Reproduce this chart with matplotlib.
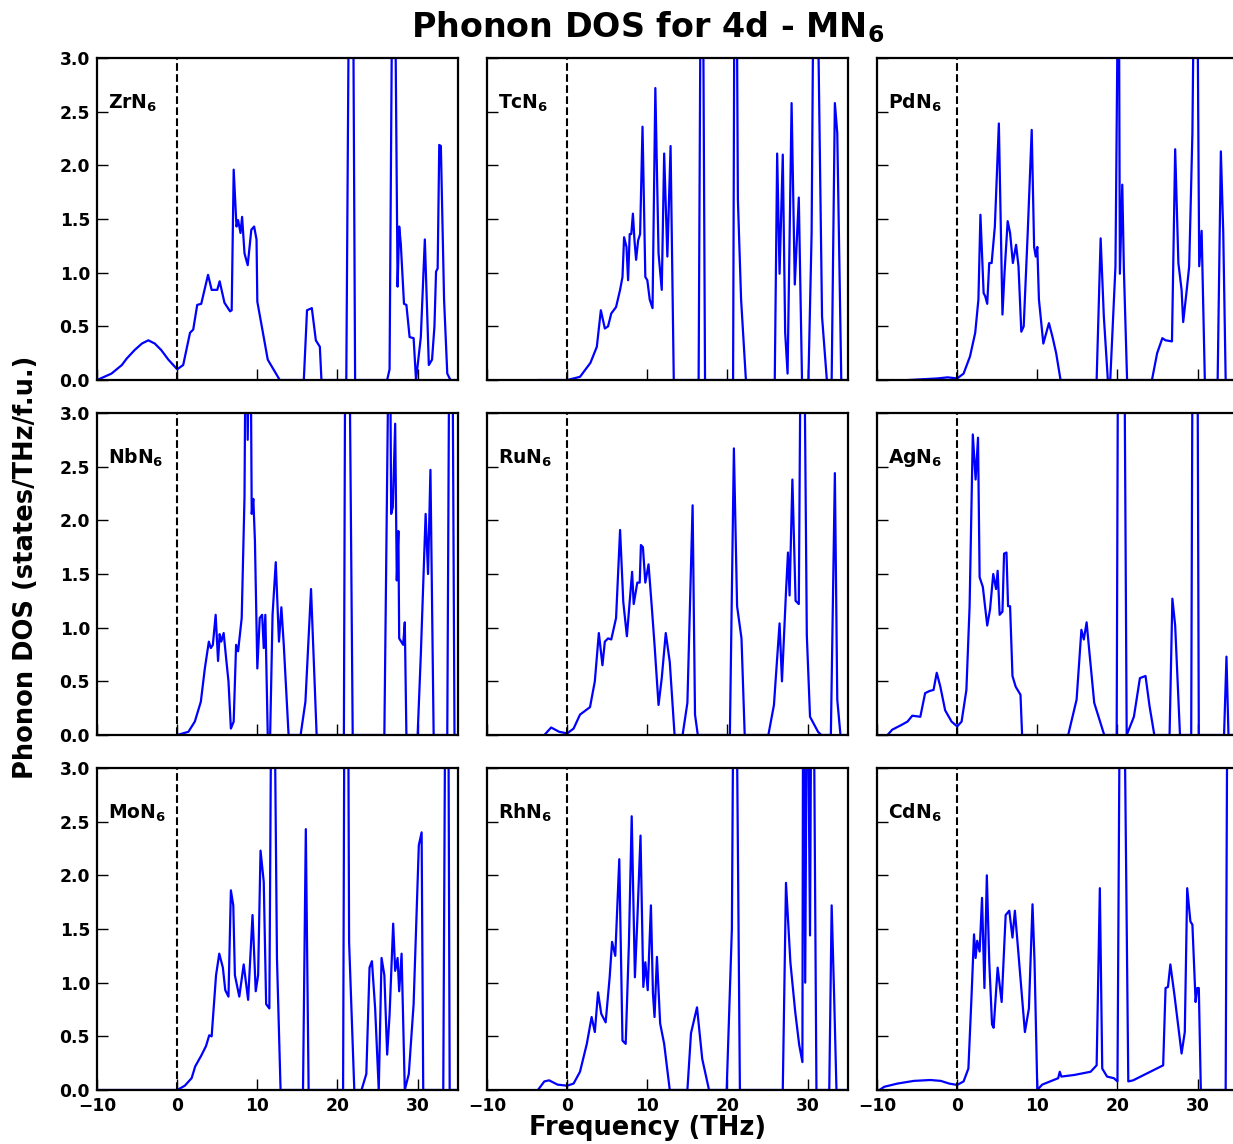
import matplotlib
matplotlib.use('Agg')
import matplotlib.pyplot as plt

# phonon DOS (values above 3.0 are cut by the axis)
zr_freq = [-10, -8.2, -6.9, -6.3, -5.3, -4.4, -3.6, -2.8, -2.0, -1.1, 0, 0.75, 1.6, 2.0, 2.5, 3.0,
           3.85, 4.3, 5.0, 5.3, 5.9, 6.6, 6.8, 7.05, 7.4, 7.6, 7.9, 8.1, 8.4, 8.8, 9.25, 9.6, 9.9,
           10.0, 10.7, 11.3, 12.8, 15.8, 16.2, 16.8, 17.3, 17.8, 18.0, 21.1, 21.5, 21.9, 22.2,
           26.2, 26.5, 26.9, 27.1, 27.5, 27.7, 27.9, 28.3, 28.6, 29.0, 29.5, 29.8, 30.4, 30.9,
           31.4, 31.8, 32.1, 32.3, 32.5, 32.7, 32.9, 33.3, 33.7, 34.1, 35]
zr_dos = [0, 0.06, 0.14, 0.2, 0.28, 0.34, 0.37, 0.34, 0.28, 0.19, 0.1, 0.14, 0.44, 0.47, 0.70, 0.71,
          0.98, 0.84, 0.84, 0.92, 0.72, 0.64, 0.65, 1.96, 1.43, 1.49, 1.37, 1.52, 1.18, 1.07, 1.40, 1.43, 1.31,
          0.73, 0.44, 0.19, 0, 0, 0.65, 0.67, 0.37, 0.31, 0, 0, 4.5, 4.5, 0,
          0, 0.1, 4.5, 4.5, 0.87, 1.43, 1.27, 0.71, 0.7, 0.4, 0.39, 0, 0.4, 1.31,
          0.14, 0.19, 0.5, 1.01, 1.04, 2.19, 2.18, 0.75, 0.06, 0, 0]

tc_freq = [-3.5, 0, 1.6, 2.9, 3.7, 4.2, 4.7, 5.1, 5.5, 6.1, 6.6, 6.9, 7.1, 7.4, 7.6, 7.8, 8.0, 8.2,
           8.4, 8.6, 8.85, 9.1, 9.4, 9.75, 10.0, 10.3, 10.65, 11.0, 11.4, 11.8, 12.1, 12.5, 12.9, 13.3,
           16.4, 16.7, 16.9, 17.2, 20.7, 20.9, 21.1, 21.3, 21.7, 22.3, 25.9, 26.2, 26.5, 26.9, 27.2,
           27.5, 28.0, 28.4, 28.9, 29.3, 30.1, 30.5, 30.8, 31.1, 31.8, 32.4, 33.0, 33.4, 33.7, 34.2, 35]
tc_dos = [0, 0, 0.03, 0.16, 0.31, 0.65, 0.48, 0.5, 0.62, 0.68, 0.84, 0.96, 1.33, 1.24, 0.93, 1.36, 1.36, 1.55,
          1.3, 1.12, 1.3, 1.36, 2.36, 0.96, 0.93, 0.75, 0.67, 2.72, 1.18, 0.84, 2.11, 1.15, 2.18, 0,
          0, 4.5, 4.5, 0, 0, 4.5, 4.5, 1.68, 0.75, 0, 0, 2.11, 0.99, 2.1, 0.44,
          0.06, 2.58, 0.89, 1.7, 0, 0, 1.37, 4.5, 4.5, 0.59, 0, 0, 2.58, 2.3, 0, 0]

pd_freq = [-6.1, -2.45, -1.2, 0, 0.8, 1.6, 2.25, 2.65, 2.9, 3.3, 3.5, 3.75, 4.0, 4.3, 4.7, 5.2, 5.65,
           5.9, 6.3, 6.6, 6.95, 7.35, 7.65, 8.0, 8.3, 8.8, 9.3, 9.6, 9.8, 10.0, 10.2, 10.75, 11.45, 11.9,
           12.35, 12.9, 17.4, 17.9, 18.3, 18.8, 19.1, 19.75, 20.15, 20.3, 20.6, 20.8, 21.2, 24.3, 24.95,
           25.6, 26.0, 26.8, 27.2, 27.6, 28.0, 28.2, 28.6, 28.95, 29.35, 29.65, 29.9, 30.2, 30.5, 30.9,
           32.5, 32.9, 33.2, 33.5, 35]
pd_dos = [0, 0.015, 0.025, 0.015, 0.06, 0.22, 0.44, 0.75, 1.54, 0.81, 0.78, 0.71, 1.09, 1.09, 1.43, 2.39, 0.61,
          0.99, 1.48, 1.37, 1.09, 1.26, 1.06, 0.45, 0.5, 1.37, 2.33, 1.24, 1.15, 1.24, 0.75, 0.34, 0.53, 0.4,
          0.25, 0, 0, 1.32, 0.59, 0, 0, 1.06, 4.5, 0.99, 1.82, 1.03, 0, 0, 0.25,
          0.39, 0.37, 0.36, 2.15, 1.09, 0.84, 0.54, 0.81, 1.06, 2.3, 4.5, 4.5, 1.06, 1.39, 0,
          0, 2.13, 1.37, 0, 0]

nb_freq = [0, 1.4, 2.2, 2.95, 3.45, 3.95, 4.2, 4.45, 4.8, 5.1, 5.3, 5.5, 5.8, 6.1, 6.4, 6.7, 7.05,
           7.35, 7.6, 8.05, 8.4, 8.6, 8.8, 9.1, 9.3, 9.5, 9.7, 10.0, 10.3, 10.6, 10.8, 11.0, 11.3, 11.6,
           11.9, 12.3, 12.7, 13.0, 13.3, 13.9, 15.4, 16.0, 16.7, 17.4, 20.8, 21.0, 21.4, 21.9, 25.85,
           26.5, 26.7, 26.9, 27.2, 27.4, 27.6, 27.7, 28.2, 28.4, 28.6, 30.0, 30.4, 31.0, 31.3, 31.6,
           32.0, 33.7, 34.0, 34.3, 34.6, 35]
nb_dos = [0, 0.03, 0.125, 0.31, 0.62, 0.87, 0.81, 0.84, 1.12, 0.69, 0.94, 0.87, 0.95, 0.72, 0.5, 0.06, 0.125,
          0.84, 0.78, 1.09, 2.22, 4.5, 2.75, 4.5, 2.06, 2.2, 1.81, 0.62, 1.09, 1.12, 0.81, 1.12, 0, 0,
          1.12, 1.61, 0.87, 1.19, 0.84, 0, 0, 0.31, 1.36, 0, 0, 4.5, 4.5, 0, 0,
          4.5, 2.06, 2.12, 2.9, 1.44, 1.9, 0.9, 0.84, 1.05, 0, 0, 0.75, 2.06, 1.5, 2.47,
          0, 0, 4.5, 4.5, 0, 0]

mo_freq = [-10, 0, 0.95, 1.8, 2.25, 3.0, 3.6, 4.0, 4.3, 4.55, 4.85, 5.25, 5.7, 6.0, 6.4, 6.7, 7.0,
           7.2, 7.75, 8.3, 8.85, 9.4, 9.8, 10.1, 10.4, 10.8, 11.1, 11.5, 11.8, 12.05, 12.45, 12.9,
           15.7, 16.05, 16.4, 20.7, 20.9, 21.3, 21.45, 22.1, 23.0, 23.6, 24.0, 24.3, 24.7, 25.15,
           25.5, 25.85, 26.2, 26.5, 26.95, 27.2, 27.5, 27.7, 28.0, 28.4, 28.9, 29.5, 30.15, 30.5,
           30.7, 33.2, 33.5, 33.8, 34.0, 35]
mo_dos = [0, 0, 0.04, 0.11, 0.22, 0.32, 0.41, 0.51, 0.5, 0.76, 1.07, 1.27, 1.14, 0.93, 0.87, 1.86, 1.72,
          1.07, 0.87, 1.17, 0.84, 1.63, 0.92, 1.07, 2.23, 1.94, 0.8, 0.76, 4.5, 4.5, 1.23, 0,
          0, 2.43, 0, 0, 4.5, 4.5, 1.38, 0, 0, 0.15, 1.14, 1.2, 0.76, 0,
          1.23, 1.07, 0.33, 0.7, 1.55, 1.11, 1.23, 0.92, 1.27, 0, 0.15, 0.8, 2.28, 2.4,
          0, 0, 4.5, 4.5, 0, 0]

ru_freq = [-2.85, -2.0, -1.0, 0, 0.8, 1.6, 2.85, 3.45, 3.95, 4.4, 4.7, 5.1, 5.5, 6.1, 6.6, 7.0, 7.45,
           8.1, 8.3, 8.75, 9.05, 9.2, 9.45, 9.75, 10.15, 10.55, 10.9, 11.4, 11.8, 12.3, 12.8, 13.4,
           14.4, 15.0, 15.65, 15.95, 16.3, 20.3, 20.8, 21.2, 21.75, 22.15, 25.1, 25.8, 26.0, 26.5,
           26.8, 27.3, 27.55, 27.75, 28.1, 28.5, 28.9, 29.2, 29.5, 29.9, 30.3, 31.3, 31.7, 32.9,
           33.4, 33.7, 34.1, 35]
ru_dos = [0, 0.07, 0.03, 0.015, 0.06, 0.19, 0.26, 0.5, 0.95, 0.65, 0.87, 0.9, 0.89, 1.09, 1.91, 1.24, 0.92,
          1.52, 1.22, 1.42, 1.42, 1.77, 1.75, 1.42, 1.59, 1.2, 0.84, 0.28, 0.53, 0.95, 0.68, 0,
          0, 0.3, 2.14, 0.19, 0, 0, 2.67, 1.2, 0.9, 0, 0, 0.28, 0.5, 1.04,
          0.5, 1.33, 1.7, 1.3, 2.38, 1.25, 1.22, 4.5, 4.5, 0.93, 0.17, 0.03, 0, 0,
          2.44, 0.33, 0, 0]

ag_freq = [-8.7, -8.1, -7.05, -6.2, -5.6, -4.6, -4.0, -3.45, -2.95, -2.55, -2.1, -1.5, -0.7, 0, 0.55,
           1.15, 1.55, 1.95, 2.3, 2.6, 2.8, 3.2, 3.75, 4.1, 4.5, 4.85, 5.05, 5.3, 5.65, 5.85, 6.15,
           6.35, 6.6, 6.9, 7.3, 7.9, 8.1, 13.85, 14.9, 15.5, 15.8, 16.15, 16.5, 17.1, 18.35, 19.9,
           20.1, 20.8, 21.15, 22.05, 22.8, 23.5, 24.0, 24.6, 26.5, 26.85, 27.2, 27.8, 29.2, 29.4,
           29.95, 30.15, 33.3, 33.6, 33.85, 35]
ag_dos = [0, 0.05, 0.09, 0.125, 0.18, 0.17, 0.39, 0.41, 0.42, 0.58, 0.45, 0.23, 0.125, 0.08, 0.125,
          0.42, 1.2, 2.8, 2.38, 2.77, 1.47, 1.38, 1.02, 1.17, 1.5, 1.36, 1.53, 1.12, 1.15, 1.69, 1.7,
          1.2, 1.2, 0.55, 0.45, 0.375, 0, 0, 0.33, 0.98, 0.89, 1.05, 0.77, 0.3, 0, 0,
          4.5, 4.5, 0, 0.17, 0.53, 0.55, 0.27, 0, 0, 1.27, 1.02, 0, 0, 4.5,
          4.5, 0, 0, 0.73, 0, 0]

rh_freq = [-3.65, -2.85, -2.25, -1.2, 0, 0.8, 1.6, 2.45, 3.05, 3.45, 3.85, 4.25, 4.8, 5.3, 5.6, 6.0,
           6.5, 6.9, 7.3, 7.7, 8.05, 8.45, 8.75, 9.15, 9.5, 9.75, 10.05, 10.45, 10.7, 10.9, 11.2, 11.6,
           12.1, 12.8, 15.0, 15.45, 16.2, 16.85, 17.7, 19.9, 20.55, 20.8, 21.05, 21.55, 26.9, 27.3,
           27.85, 28.45, 28.95, 29.35, 29.45, 29.7, 29.95, 30.3, 30.5, 30.7, 31.1, 32.7, 33.0, 33.3,
           33.6, 35]
rh_dos = [0, 0.08, 0.09, 0.05, 0.04, 0.06, 0.17, 0.43, 0.68, 0.54, 0.91, 0.71, 0.63, 1.05, 1.38, 1.25,
          2.15, 0.46, 0.43, 1.36, 2.55, 1.05, 1.58, 2.37, 0.96, 1.19, 0.93, 1.72, 0.9, 0.68, 1.24, 0.62,
          0.43, 0, 0, 0.53, 0.77, 0.29, 0, 0, 1.5, 4.5, 4.5, 0, 0, 1.93,
          1.19, 0.73, 0.42, 0.26, 4.5, 1.0, 4.5, 1.44, 4.5, 4.5, 0, 0, 1.72, 0.9,
          0, 0]

cd_freq = [-9.7, -9.1, -7.45, -5.4, -3.35, -2.05, -1.0, 0, 0.8, 1.4, 1.8, 2.1, 2.3, 2.5, 2.8, 3.1,
           3.4, 3.7, 4.0, 4.35, 4.55, 5.05, 5.55, 6.05, 6.5, 6.9, 7.2, 7.6, 8.45, 8.95, 9.4, 9.65,
           10.0, 10.6, 11.6, 12.6, 12.8, 13.0, 14.6, 16.65, 17.4, 17.8, 18.1, 18.7, 19.55, 20.0,
           20.35, 20.75, 21.35, 21.95, 25.7, 26.0, 26.3, 26.6, 27.1, 28.0, 28.4, 28.7, 29.1, 29.35,
           29.75, 29.95, 30.15, 30.4, 33.5, 33.75, 34.0, 35]
cd_dos = [0, 0.03, 0.06, 0.085, 0.093, 0.085, 0.06, 0.047, 0.08, 0.2, 0.89, 1.45, 1.23, 1.39, 1.29, 1.79,
          0.95, 2.0, 1.2, 0.61, 0.58, 1.14, 0.82, 1.63, 1.67, 1.42, 1.67, 1.31, 0.54, 0.76, 1.73, 1.2,
          0, 0.05, 0.08, 0.11, 0.17, 0.125, 0.14, 0.17, 0.23, 1.88, 0.2, 0.125, 0.11, 0.08,
          4.5, 4.5, 0.08, 0.09, 0.23, 0.95, 0.96, 1.17, 0.89, 0.34, 0.54, 1.88, 1.57, 1.54,
          0.82, 0.95, 0.95, 0, 0, 4.5, 4.5, 4.5]

labels = [['ZrN', 'TcN', 'PdN'], ['NbN', 'RuN', 'AgN'], ['MoN', 'RhN', 'CdN']]
freqs = [[zr_freq, tc_freq, pd_freq], [nb_freq, ru_freq, ag_freq], [mo_freq, rh_freq, cd_freq]]
doss = [[zr_dos, tc_dos, pd_dos], [nb_dos, ru_dos, ag_dos], [mo_dos, rh_dos, cd_dos]]

fig = plt.figure(figsize=(12.33, 11.44), dpi=100)
lefts = [0.0787, 0.395, 0.7113]
bottoms = [0.6678, 0.3575, 0.0472]
w, h = 0.2925, 0.2815

for r in range(3):
    for c in range(3):
        ax = fig.add_axes([lefts[c], bottoms[r], w, h])
        ax.plot(freqs[r][c], doss[r][c], color='blue', lw=1.6)
        ax.axvline(0, color='black', ls='--', lw=1.5)
        ax.set_xlim(-10, 35)
        ax.set_ylim(0, 3.0)
        ax.set_xticks([-10, 0, 10, 20, 30])
        ax.set_yticks([0, 0.5, 1.0, 1.5, 2.0, 2.5, 3.0])
        ax.tick_params(direction='in', length=8, width=1, top=False, right=False,
                       labelsize=12.3, pad=5)
        for lab in ax.get_xticklabels():
            lab.set_fontweight('bold')
        if c > 0:
            ax.set_yticklabels([])
        else:
            ax.set_yticklabels(['%.1f' % v for v in ax.get_yticks()], fontweight='bold')
        if r < 2:
            ax.set_xticklabels([])
        for s in ax.spines.values():
            s.set_linewidth(1.6)
        ax.text(-8.6, 2.53, labels[r][c] + r'$_\mathbf{6}$', fontsize=13.5,
                fontweight='bold', ha='left', va='baseline')

fig.text(0.5255, 0.976, r'Phonon DOS for 4d - MN$_\mathbf{6}$', fontsize=24,
         fontweight='bold', ha='center', va='center')
fig.text(0.021, 0.504, 'Phonon DOS (states/THz/f.u.)', fontsize=18.5, fontweight='bold',
         rotation=90, ha='center', va='center')
fig.text(0.5255, 0.014, 'Frequency (THz)', fontsize=18.5, fontweight='bold',
         ha='center', va='center')

fig.savefig('out.png', dpi=100)
